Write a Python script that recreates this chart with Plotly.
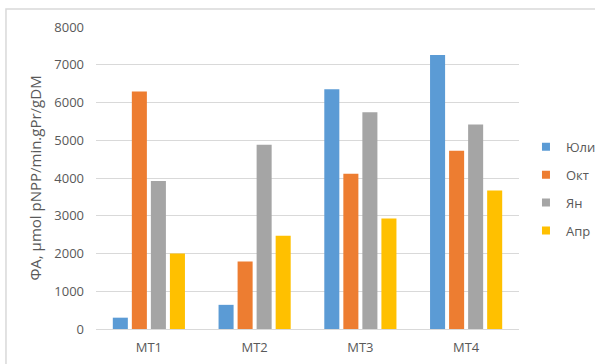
import plotly.graph_objects as go

categories = ["MT1", "MT2", "MT3", "MT4"]
series_names = ["Юли", "Окт", "Ян", "Апр"]
juli = [300, 640, 6350, 7260]
okt = [6290, 1790, 4110, 4720]
yan = [3920, 4880, 5740, 5420]
apr = [2000, 2470, 2930, 3670]
colors = ["#5B9BD5", "#ED7D31", "#A5A5A5", "#FFC000"]
y_ticks = [0, 1000, 2000, 3000, 4000, 5000, 6000, 7000, 8000]

series_values = [juli, okt, yan, apr]

fig = go.Figure()
for name, vals, col in zip(series_names, series_values, colors):
    fig.add_trace(go.Bar(x=categories, y=vals, name=name, marker_color=col,
                         marker_line_width=0, showlegend=False))
for i, (name, col) in enumerate(zip(series_names, colors)):
    fig.add_trace(go.Scatter(x=[None], y=[None], mode="markers", name=name,
                             marker=dict(symbol="square", size=8, color=col),
                             legendgroup=str(i), showlegend=True))

font = dict(family="Open Sans, Segoe UI, sans-serif", size=13, color="#595959")

fig.update_layout(
    width=595, height=364,
    margin=dict(l=96, r=76, t=27, b=35, autoexpand=False),
    paper_bgcolor="white", plot_bgcolor="white",
    font=font,
    barmode="group", bargap=0.28, bargroupgap=0.21,
    showlegend=True,
    legend=dict(x=1.0165, y=0.464, xanchor="left", yanchor="middle",
                traceorder="grouped", tracegroupgap=8,
                itemwidth=30, font=dict(size=13, color="#595959")),
    xaxis=dict(showgrid=False, showline=False, ticks="", ticklabelstandoff=9),
    yaxis=dict(range=[0, 8000], tickvals=y_ticks, showgrid=True,
               gridcolor="#D9D9D9", gridwidth=1, zeroline=True,
               zerolinecolor="#D9D9D9", zerolinewidth=1, showline=False,
               ticks="", ticklabelstandoff=11,
               title=dict(text="ФА, µmol pNPP/min.gPr/gDM", standoff=9,
                          font=dict(size=15, color="#595959"))),
    shapes=[dict(type="path", xref="paper", yref="paper",
                 path="M -0.2128 -0.3 L -0.2128 1.0596 L 1.4 1.0596",
                 line=dict(color="#D9D9D9", width=1.5))],
)

fig.write_html("out.html")
